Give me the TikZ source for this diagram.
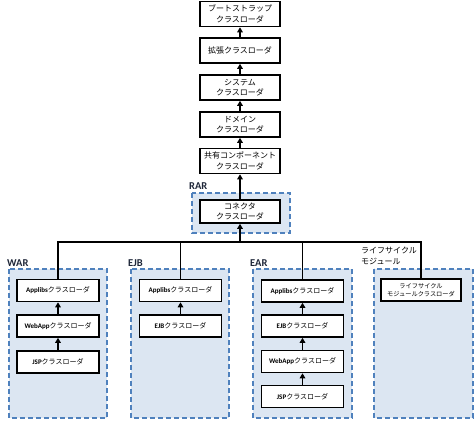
\documentclass[tikz,border=0pt]{standalone}
\usepackage{fontspec}
\setmainfont{Noto Sans CJK JP}
\newfontfamily\latfont{Carlito}
\usetikzlibrary{arrows.meta}
\definecolor{cfill}{RGB}{220,230,242}
\definecolor{cline}{RGB}{79,129,189}
\definecolor{lbl}{RGB}{30,38,56}
\newcommand\latb[1]{{\latfont\bfseries #1}}
\begin{document}
\begin{tikzpicture}[x=1pt,y=-1pt,
 bigbox/.style={draw=black,line width=1.6pt,fill=white,minimum width=80pt,minimum height=25pt,inner sep=0pt,align=center,font=\fontsize{8}{10.5}\selectfont},
 smallbox/.style={draw=black,line width=1.6pt,fill=white,minimum width=82pt,minimum height=22pt,inner sep=0pt,align=center,font=\fontsize{7}{9}\selectfont},
 cont/.style={draw=cline,fill=cfill,line width=1.5pt,dash pattern=on 5pt off 3pt},
 grp/.style={font=\latfont\bfseries\fontsize{10.5}{11}\selectfont,text=lbl,anchor=west,inner sep=0pt},
 arr/.style={line width=1.6pt,-{Triangle[length=5pt,width=5.5pt]}},
 conn/.style={line width=1.6pt,line join=miter}]
\useasboundingbox (0,0) rectangle (476,424);

% containers
\draw[cont] (192,193) rectangle (290,233);
\draw[cont] (9,269) rectangle (107,418);
\draw[cont] (131,269) rectangle (229,418);
\draw[cont] (253,269) rectangle (352,418);
\draw[cont] (374,269) rectangle (473,418);

% group labels
\node[grp] (lrar) at (189,186) {RAR};
\node[grp] (lwar) at (7,263) {WAR};
\node[grp] (lejb) at (128,263) {EJB};
\node[grp] (lear) at (250,263) {EAR};
\node[anchor=west,inner sep=0pt,align=left,font=\fontsize{8}{10.5}\selectfont] (llc) at (361,256) {ライフサイクル\\モジュール};

% top chain
\node[bigbox] (b1) at (240,14) {ブートストラップ\\クラスローダ};
\node[bigbox] (b2) at (240,50.5) {拡張クラスローダ};
\node[bigbox] (b3) at (240,87.5) {システム\\クラスローダ};
\node[bigbox] (b4) at (240,124.5) {ドメイン\\クラスローダ};
\node[bigbox] (b5) at (240,161) {共有コンポーネント\\クラスローダ};
\node[bigbox,minimum height=23pt] (b6) at (240,211.5) {コネクタ\\クラスローダ};

\draw[arr] (b2.north) -- (b1.south);
\draw[arr] (b3.north) -- (b2.south);
\draw[arr] (b4.north) -- (b3.south);
\draw[arr] (b5.north) -- (b4.south);
\draw[arr] (b6.north) -- (b5.south);

% WAR
\node[smallbox] (w1) at (58,290.5) {\latb{Applibs}クラスローダ};
\node[smallbox] (w2) at (58,326) {\latb{WebApp}クラスローダ};
\node[smallbox] (w3) at (58,362) {\latb{JSP}クラスローダ};
\draw[arr] (w2.north) -- (w1.south);
\draw[arr] (w3.north) -- (w2.south);

% EJB
\node[smallbox] (e1) at (180.5,290.5) {\latb{Applibs}クラスローダ};
\node[smallbox] (e2) at (180.5,326) {\latb{EJB}クラスローダ};
\draw[arr] (e2.north) -- (e1.south);

% EAR
\node[smallbox] (a1) at (302.5,291) {\latb{Applibs}クラスローダ};
\node[smallbox] (a2) at (302.5,326) {\latb{EJB}クラスローダ};
\node[smallbox] (a3) at (302.5,361.5) {\latb{WebApp}クラスローダ};
\node[smallbox] (a4) at (302.5,396.5) {\latb{JSP}クラスローダ};
\draw[arr] (a2.north) -- (a1.south);
\draw[arr] (a3.north) -- (a2.south);
\draw[arr] (a4.north) -- (a3.south);

% lifecycle
\node[smallbox,minimum width=80pt,font=\fontsize{6.2}{8}\selectfont] (l1) at (421,290) {ライフサイクル\\モジュールクラスローダ};

% bus
\coordinate (busL) at (58,242);
\coordinate (busR) at (421,242);
\draw[conn] (w1.north) -- (busL) -- (busR) -- (l1.north);
\draw[conn] (e1.north) -- (e1.north |- busL);
\draw[conn] (a1.north) -- (a1.north |- busL);
\draw[arr] (b6.south |- busL) -- (b6.south);
\end{tikzpicture}
\end{document}
